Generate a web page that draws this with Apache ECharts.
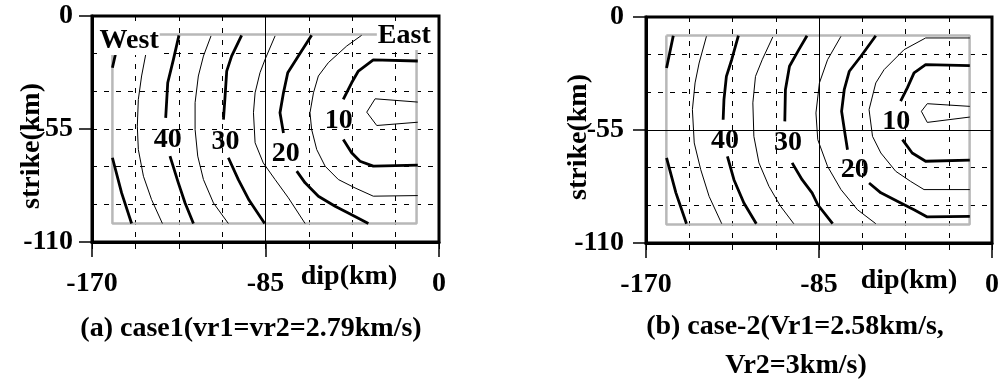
<!DOCTYPE html>
<html><head><meta charset="utf-8">
<script src="https://cdn.jsdelivr.net/npm/echarts@6/dist/echarts.min.js"></script>
<style>html,body{margin:0;padding:0;background:#fff}#c{width:1002px;height:381px}</style>
</head><body><div id="c"></div>
<script>
// ---------- axes ----------
const xMajorTicks = [-170, -85, 0];          // labelled dip ticks (km)
const yMajorTicks = [0, -55, -110];          // labelled strike ticks (km)
const xRange = [-170, 0];
const yRange = [-110, 0];
const xGridStep = 21.25;
const yGridStep = 110 / 6;

// fault outline (gray rectangle), [dip, strike]
const faultOutline = [[-160, -9], [-11, -9], [-11, -101], [-160, -101], [-160, -9]];

// ---------- panel (a): case 1, rupture-time contours (s) ----------
const a_t05 = [[[-10.4,-41.9],[-31.3,-40.3],[-35.4,-46.8],[-30.5,-53.3],[-10.4,-51.7]]];
const a_t10 = [[[-10.4,-21.9],[-32.2,-21.4],[-39.5,-26.8],[-42.8,-32.5],[-46.9,-40.6]],
               [[-46.9,-60.1],[-42.8,-66.6],[-38.7,-70.7],[-32.2,-73.1],[-10.4,-72.6]]];
const a_t15 = [[[-37.9,-9.4],[-45.2,-14.6],[-54.2,-22.7],[-59.1,-29.2],[-61.5,-37.4],[-63.2,-47.1],[-62.4,-55.2],[-59.9,-65.0],[-55.8,-73.1],[-49.3,-79.6],[-41.1,-83.7],[-32.2,-87.7],[-10.4,-87.4]]];
const a_t20 = [[[-62.4,-9.4],[-68.9,-19.5],[-74.1,-27.6],[-76.2,-37.4],[-77.9,-47.1],[-76.2,-56.9]],
               [[-69.7,-75.5],[-65.6,-81.2],[-59.1,-87.7],[-50.9,-92.6],[-42.8,-96.7],[-34.6,-101.0]]];
const a_t25 = [[[-80.3,-9.7],[-85.2,-21.1],[-87.7,-27.6],[-90.1,-37.4],[-90.9,-47.1],[-90.1,-61.7],[-86.1,-71.5],[-80.3,-79.6],[-73.8,-88.5],[-65.6,-101.0]]];
const a_t30 = [[[-96.7,-9.4],[-101.6,-19.5],[-104.0,-26.8],[-104.8,-39.0],[-105.6,-50.4]],
               [[-103.2,-69.0],[-98.3,-79.6],[-93.0,-89.7],[-85.4,-101.0]]];
const a_t35 = [[[-111.7,-9.7],[-115.4,-19.5],[-117.9,-29.2],[-119.5,-42.2],[-119.5,-55.2],[-118.2,-68.2],[-115.4,-79.6],[-110.5,-91.0],[-103.2,-101.0]]];
const a_t40 = [[[-127.4,-9.4],[-130.1,-21.1],[-132.9,-32.5],[-133.9,-49.6]],
               [[-131.8,-68.2],[-127.7,-81.2],[-124.4,-91.0],[-120.3,-101.0]]];
const a_t45 = [[[-140.8,-9.4],[-143.2,-16.2],[-145.7,-29.2],[-147.3,-40.6],[-147.8,-53.6],[-147.3,-65.0],[-144.8,-78.0],[-140.8,-89.4],[-135.5,-101.0]]];
const a_t50 = [[[-157.3,-9.4],[-158.7,-19.5],[-160.0,-25.2]],
               [[-160.0,-69.0],[-155.5,-86.1],[-150.6,-101.0]]];
const a_labels = [[-132.9,-60.4,'40'],[-104.6,-61.4,'30'],[-75.1,-66.9,'20'],[-49.1,-51.2,'10']];
const a_sideNames = [[-151.8,-12.2,'West'],[-17.0,-9.7,'East']];
const a_solidX = [-85];
const a_solidY = [];

// ---------- panel (b): case 2 ----------
const b_t05 = [[[-10.9,-43.5],[-31.8,-42.2],[-34.7,-45.9],[-31.8,-51.3],[-10.9,-48.7]]];
const b_t10 = [[[-10.9,-23.7],[-32.6,-23.2],[-38.3,-27.2],[-41.6,-34.5],[-44.9,-41.0]],
               [[-44.0,-59.7],[-39.2,-66.2],[-32.6,-70.2],[-10.9,-69.7]]];
const b_t15 = [[[-10.9,-10.2],[-32.6,-10.2],[-43.2,-15.9],[-53.0,-25.6],[-57.1,-32.1],[-60.4,-45.1],[-58.7,-58.1],[-54.6,-66.2],[-47.3,-75.1],[-40.0,-80.0],[-33.4,-84.0],[-10.9,-84.0]]];
const b_t20 = [[[-57.1,-9.1],[-64.4,-19.1],[-70.1,-26.4],[-72.6,-35.4],[-73.9,-45.9],[-72.3,-56.4],[-71.0,-64.6]],
               [[-60.4,-80.8],[-54.6,-85.6],[-46.5,-89.7],[-38.3,-93.8],[-31.8,-97.3],[-10.9,-97.0]]];
const b_t25 = [[[-74.2,-9.4],[-80.8,-20.8],[-84.8,-32.1],[-86.5,-46.7],[-85.6,-59.7],[-80.8,-72.7],[-74.2,-84.0],[-66.1,-93.8],[-57.1,-100.6]]];
const b_t30 = [[[-90.9,-9.1],[-94.9,-15.9],[-99.5,-24.0],[-101.5,-35.4],[-101.8,-50.8]],
               [[-98.2,-71.0],[-93.3,-79.2],[-88.4,-85.6],[-85.5,-91.5],[-78.3,-100.6]]];
const b_t35 = [[[-107.7,-9.7],[-112.9,-20.8],[-116.2,-28.9],[-117.5,-41.8],[-117.0,-58.1],[-114.5,-71.0],[-109.6,-82.4],[-103.9,-92.1],[-97.4,-100.6]]];
const b_t40 = [[[-124.6,-9.1],[-127.9,-20.8],[-130.5,-28.9],[-131.7,-40.2],[-132.1,-50.0]],
               [[-130.0,-67.8],[-126.8,-79.2],[-121.9,-90.5],[-115.8,-100.6]]];
const b_t45 = [[[-140.3,-9.4],[-143.9,-22.4],[-145.9,-32.1],[-147.2,-45.1],[-146.3,-61.3],[-143.1,-74.3],[-139.0,-87.3],[-132.8,-100.6]]];
const b_t50 = [[[-156.6,-9.1],[-159.9,-24.8]],
               [[-159.9,-68.6],[-155.3,-85.6],[-150.1,-100.6]]];
const b_labels = [[-131.2,-60.0,'40'],[-100.2,-61.0,'30'],[-67.4,-74.3,'20'],[-47.1,-50.8,'10']];
const b_sideNames = [];
const b_solidX = [-85];
const b_solidY = [-55];

const contourLevels = [5,10,15,20,25,30,35,40,45,50];
const panelA = [a_t05,a_t10,a_t15,a_t20,a_t25,a_t30,a_t35,a_t40,a_t45,a_t50];
const panelB = [b_t05,b_t10,b_t15,b_t20,b_t25,b_t30,b_t35,b_t40,b_t45,b_t50];

const xTitle = 'dip(km)';
const yTitle = 'strike(km)';
const captionA = '(a) case1(vr1=vr2=2.79km/s)';
const captionB = ['(b) case-2(Vr1=2.58km/s,', 'Vr2=3km/s)'];

// ---------- build ----------
const FONT = '"Liberation Serif","Times New Roman",serif';
const FS = 28;
const grids = [
  {left: 92, top: 16, width: 347, height: 226, show: true, borderColor: '#000', borderWidth: 3, backgroundColor: 'transparent'},
  {left: 646, top: 17, width: 347, height: 226, show: true, borderColor: '#000', borderWidth: 3, backgroundColor: 'transparent'}
];
const dashed = {show: true, lineStyle: {color: '#000', width: 1, type: [5, 7]}};
const labelStyle = {fontFamily: FONT, fontWeight: 'bold', fontSize: FS, color: '#000', textBorderWidth: 0, opacity: 1};
const yMargins = [19, 22];

const xAxes = [], yAxes = [];
[0, 1].forEach(g => {
  xAxes.push({gridIndex: g, type: 'value', min: xRange[0], max: xRange[1], interval: xGridStep, position: 'bottom',
    axisLine: {show: true, onZero: false, lineStyle: {color: '#000', width: 3}},
    axisTick: {show: true, length: 7, lineStyle: {color: '#000', width: 1}},
    axisLabel: {show: false}, splitLine: dashed});
  xAxes.push({gridIndex: g, type: 'value', min: xRange[0], max: xRange[1], position: 'bottom',
    axisLine: {show: false, onZero: false},
    axisTick: {show: true, customValues: xMajorTicks, length: 15, lineStyle: {color: '#000', width: 1.5}},
    axisLabel: Object.assign({show: true, customValues: xMajorTicks, margin: 28}, labelStyle),
    splitLine: {show: false}});
  yAxes.push({gridIndex: g, type: 'value', min: yRange[0], max: yRange[1], interval: yGridStep, position: 'left',
    axisLine: {show: true, onZero: false, lineStyle: {color: '#000', width: 3}},
    axisTick: {show: false}, axisLabel: {show: false}, splitLine: dashed});
  yAxes.push({gridIndex: g, type: 'value', min: yRange[0], max: yRange[1], position: 'left',
    axisLine: {show: false, onZero: false},
    axisTick: {show: true, customValues: yMajorTicks, length: 13, lineStyle: {color: '#000', width: 1.5}},
    axisLabel: Object.assign({show: true, customValues: yMajorTicks, margin: yMargins[g]}, labelStyle),
    splitLine: {show: false}});
});

const series = [];
function addPanel(g, levels, labels, sideNames, solidX, solidY) {
  const mlData = solidX.map(v => ({xAxis: v})).concat(solidY.map(v => ({yAxis: v})));
  series.push({type: 'line', xAxisIndex: g * 2, yAxisIndex: g * 2, data: faultOutline, symbol: 'none',
    lineStyle: {color: '#b8b8b8', width: 2.5}, z: 2, silent: true,
    markLine: {silent: true, symbol: ['none', 'none'], label: {show: false},
      lineStyle: {color: '#000', width: 1, type: 'solid'}, data: mlData}});
  levels.forEach((segs, i) => {
    const t = contourLevels[i];
    segs.forEach(seg => series.push({type: 'line', xAxisIndex: g * 2, yAxisIndex: g * 2, data: seg,
      symbol: 'none', silent: true, z: 3,
      lineStyle: {color: '#000', width: t % 10 === 0 ? 2.8 : 1, join: 'round'}}));
  });
  const lbl = (bg) => Object.assign({show: true, position: 'inside', formatter: '{b}'}, labelStyle,
    bg ? {backgroundColor: '#fff', padding: [0, 1]} : {});
  series.push({type: 'scatter', xAxisIndex: g * 2, yAxisIndex: g * 2, symbolSize: 0, z: 5, silent: true,
    itemStyle: {color: '#000', opacity: 1},
    data: labels.map(d => ({value: [d[0], d[1]], name: d[2]})), label: lbl(false)});
  if (sideNames.length) series.push({type: 'scatter', xAxisIndex: g * 2, yAxisIndex: g * 2, symbolSize: 0, z: 6, silent: true,
    itemStyle: {color: '#000', opacity: 1},
    data: sideNames.map(d => ({value: [d[0], d[1]], name: d[2]})), label: lbl(true)});
}
addPanel(0, panelA, a_labels, a_sideNames, a_solidX, a_solidY);
addPanel(1, panelB, b_labels, b_sideNames, b_solidX, b_solidY);

function txt(text, x, y, rot) {
  return {type: 'text', x: x, y: y, rotation: rot || 0, z: 10,
    style: {text: text, font: 'bold ' + FS + 'px ' + FONT, fill: '#000',
      align: 'center', verticalAlign: 'middle', textAlign: 'center', textVerticalAlign: 'middle'}};
}
const graphic = [
  txt(yTitle, 32, 146, Math.PI / 2),
  txt(yTitle, 579, 137, Math.PI / 2),
  txt(xTitle, 349, 277),
  txt(xTitle, 909, 281),
  txt(captionA, 251, 329),
  txt(captionB[0], 795, 327),
  txt(captionB[1], 796, 366)
];

const chart = echarts.init(document.getElementById('c'), null, {renderer: 'canvas'});
chart.setOption({animation: false, grid: grids, xAxis: xAxes, yAxis: yAxes, series: series, graphic: graphic});
</script></body></html>
